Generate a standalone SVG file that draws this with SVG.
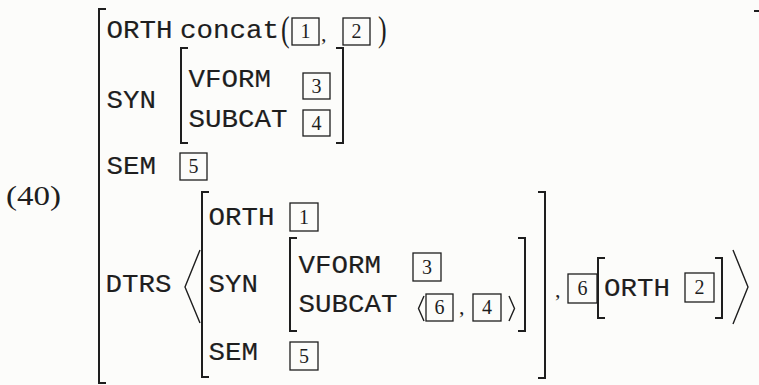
<svg xmlns="http://www.w3.org/2000/svg" width="759" height="385" viewBox="0 0 759 385">
<style>
.tt{font-family:"Liberation Mono","DejaVu Sans Mono",monospace;font-size:25px;fill:#1e1e1e;stroke:#1e1e1e;stroke-width:0.15}
.rm{font-family:"Liberation Serif","DejaVu Serif",serif;fill:#1e1e1e}
.d{font-family:"Liberation Serif","DejaVu Serif",serif;font-size:20px;fill:#1e1e1e;text-anchor:middle}
.bx{fill:none;stroke:#1e1e1e;stroke-width:1.3}
.br{fill:none;stroke:#1e1e1e;stroke-width:2;stroke-linejoin:miter}
.ang{fill:none;stroke:#1e1e1e;stroke-width:1.4;stroke-linejoin:miter}
</style>
<rect width="759" height="385" fill="#fcfcfa"/>

<g id="label">
<text class="rm" x="6" y="205" font-size="28" textLength="55" lengthAdjust="spacingAndGlyphs">(40)</text>
</g>

<g id="outer-avm">
<path class="br" d="M106,9 H99 V383 H106"/>
<path class="br" d="M754,11 H759"/>
</g>

<g id="row-orth">
<text class="tt" x="106.5" y="38" textLength="66" lengthAdjust="spacingAndGlyphs">ORTH</text>
<text class="tt" x="180" y="38" textLength="99" lengthAdjust="spacingAndGlyphs">concat</text>
<text class="rm" font-size="36" transform="translate(281,40.5) scale(0.72,1)">(</text>
<rect class="bx" x="292" y="18" width="27" height="27"/>
<text class="d" x="305.5" y="38">1</text>
<text class="rm" x="321" y="41" font-size="22">,</text>
<rect class="bx" x="343" y="18" width="27" height="27"/>
<text class="d" x="356.5" y="38">2</text>
<text class="rm" font-size="36" transform="translate(378,40.5) scale(0.72,1)">)</text>
</g>

<g id="row-syn">
<text class="tt" x="106.5" y="108" textLength="49.5" lengthAdjust="spacingAndGlyphs">SYN</text>
<path class="br" d="M188,48 H181 V143 H188"/>
<path class="br" d="M336,48 H343 V143 H336"/>
<text class="tt" x="188.5" y="87" textLength="82.5" lengthAdjust="spacingAndGlyphs">VFORM</text>
<rect class="bx" x="303" y="73" width="27" height="26"/>
<text class="d" x="316.5" y="92.5">3</text>
<text class="tt" x="188.5" y="127" textLength="99" lengthAdjust="spacingAndGlyphs">SUBCAT</text>
<rect class="bx" x="303" y="110" width="27" height="26"/>
<text class="d" x="316.5" y="129.5">4</text>
</g>

<g id="row-sem">
<text class="tt" x="106.5" y="174" textLength="49.5" lengthAdjust="spacingAndGlyphs">SEM</text>
<rect class="bx" x="180" y="153" width="27" height="27"/>
<text class="d" x="193.5" y="173">5</text>
</g>

<g id="row-dtrs">
<text class="tt" x="105.5" y="292" textLength="66" lengthAdjust="spacingAndGlyphs">DTRS</text>
<polyline class="ang" points="200,250 185,287 200,323"/>

<g id="dtr1">
<path class="br" d="M209,192 H202 V377 H209"/>
<path class="br" d="M538,192 H545 V378 H538"/>
<text class="tt" x="208.5" y="225" textLength="66" lengthAdjust="spacingAndGlyphs">ORTH</text>
<rect class="bx" x="290" y="203" width="28" height="28"/>
<text class="d" x="304" y="223.5">1</text>
<text class="tt" x="208.5" y="292" textLength="49.5" lengthAdjust="spacingAndGlyphs">SYN</text>
<path class="br" d="M297,238 H290 V331 H297"/>
<path class="br" d="M518,238 H525 V331 H518"/>
<text class="tt" x="298.5" y="273" textLength="82.5" lengthAdjust="spacingAndGlyphs">VFORM</text>
<rect class="bx" x="413" y="253" width="28" height="28"/>
<text class="d" x="427" y="273.5">3</text>
<text class="tt" x="298.5" y="312" textLength="99" lengthAdjust="spacingAndGlyphs">SUBCAT</text>
<polyline class="ang" points="424,296 418.5,308.5 424,321"/>
<rect class="bx" x="426" y="294" width="27" height="27"/>
<text class="d" x="439.5" y="314">6</text>
<text class="rm" x="459" y="314" font-size="22">,</text>
<rect class="bx" x="473" y="294" width="28" height="27"/>
<text class="d" x="487" y="314">4</text>
<polyline class="ang" points="509,296 514.5,308.5 509,321"/>
<text class="tt" x="208.5" y="360" textLength="49.5" lengthAdjust="spacingAndGlyphs">SEM</text>
<rect class="bx" x="290" y="342" width="28" height="28"/>
<text class="d" x="304" y="362.5">5</text>
</g>

<text class="rm" x="555" y="297" font-size="22">,</text>

<g id="dtr2">
<rect class="bx" x="568" y="274" width="29" height="29"/>
<text class="d" x="582.5" y="295">6</text>
<path class="br" d="M605,258 H598 V318 H605"/>
<text class="tt" x="604" y="296" textLength="66" lengthAdjust="spacingAndGlyphs">ORTH</text>
<rect class="bx" x="685" y="273" width="29" height="29"/>
<text class="d" x="699.5" y="294">2</text>
<path class="br" d="M715,258 H722 V318 H715"/>
</g>
<polyline class="ang" points="733,250 748,287 733,324"/>
</g>

<g id="connectors"/>
</svg>
